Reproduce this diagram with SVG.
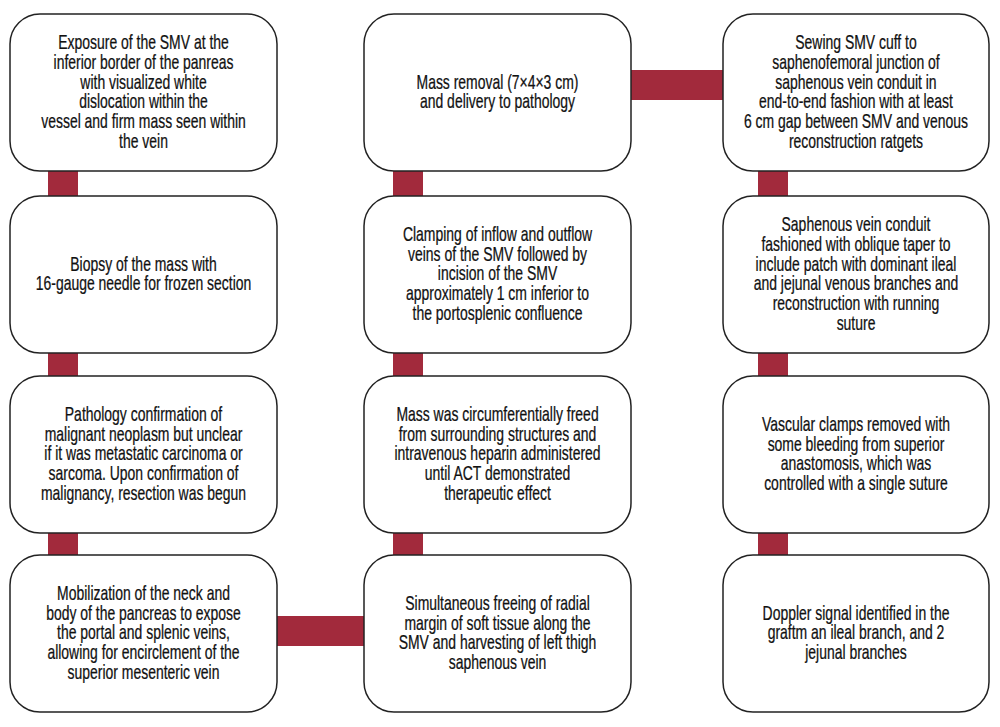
<svg xmlns="http://www.w3.org/2000/svg" width="1000" height="727" viewBox="0 0 1000 727">
<style>
.box{fill:#fff;stroke:#222;stroke-width:1.5}
.bar{fill:#a22a3c}
text{font-family:"Liberation Sans",Arial,sans-serif;font-size:19.5px;fill:#111;text-anchor:middle;stroke:#111;stroke-width:0.25}
</style>
<rect width="1000" height="727" fill="#fff"/>
<g id="connectors">
<rect class="bar" x="48" y="165" width="30" height="37"/>
<rect class="bar" x="48" y="347" width="30" height="35"/>
<rect class="bar" x="48" y="527" width="30" height="34"/>
<rect class="bar" x="270" y="616" width="100" height="30"/>
<rect class="bar" x="393" y="527" width="30" height="34"/>
<rect class="bar" x="393" y="347" width="30" height="35"/>
<rect class="bar" x="393" y="165" width="30" height="37"/>
<rect class="bar" x="625" y="70" width="104" height="30"/>
<rect class="bar" x="758" y="165" width="30" height="37"/>
<rect class="bar" x="758" y="347" width="30" height="35"/>
<rect class="bar" x="758" y="527" width="30" height="34"/>
</g>
<g id="n1">
<rect class="box" x="10" y="14" width="267" height="157" rx="30"/>
<g transform="matrix(0.716 0 0 1 143.5 0)">
<text x="0" y="49">Exposure of the SMV at the</text>
<text x="0" y="68.8">inferior border of the panreas</text>
<text x="0" y="88.6">with visualized white</text>
<text x="0" y="108.4">dislocation within the</text>
<text x="0" y="128.2">vessel and firm mass seen within</text>
<text x="0" y="148">the vein</text>
</g>
</g>
<g id="n2">
<rect class="box" x="10" y="196" width="267" height="157" rx="30"/>
<g transform="matrix(0.716 0 0 1 143.5 0)">
<text x="0" y="270.6">Biopsy of the mass with</text>
<text x="0" y="290.4">16-gauge needle for frozen section</text>
</g>
</g>
<g id="n3">
<rect class="box" x="10" y="376" width="267" height="157" rx="30"/>
<g transform="matrix(0.716 0 0 1 143.5 0)">
<text x="0" y="420.9">Pathology confirmation of</text>
<text x="0" y="440.7">malignant neoplasm but unclear</text>
<text x="0" y="460.5">if it was metastatic carcinoma or</text>
<text x="0" y="480.3">sarcoma. Upon confirmation of</text>
<text x="0" y="500.1">malignancy, resection was begun</text>
</g>
</g>
<g id="n4">
<rect class="box" x="10" y="555" width="267" height="157" rx="30"/>
<g transform="matrix(0.716 0 0 1 143.5 0)">
<text x="0" y="599.9">Mobilization of the neck and</text>
<text x="0" y="619.7">body of the pancreas to expose</text>
<text x="0" y="639.5">the portal and splenic veins,</text>
<text x="0" y="659.3">allowing for encirclement of the</text>
<text x="0" y="679.1">superior mesenteric vein</text>
</g>
</g>
<g id="n5">
<rect class="box" x="364" y="555" width="267" height="157" rx="30"/>
<g transform="matrix(0.716 0 0 1 497.5 0)">
<text x="0" y="609.8">Simultaneous freeing of radial</text>
<text x="0" y="629.6">margin of soft tissue along the</text>
<text x="0" y="649.4">SMV and harvesting of left thigh</text>
<text x="0" y="669.2">saphenous vein</text>
</g>
</g>
<g id="n6">
<rect class="box" x="364" y="376" width="267" height="157" rx="30"/>
<g transform="matrix(0.716 0 0 1 497.5 0)">
<text x="0" y="420.9">Mass was circumferentially freed</text>
<text x="0" y="440.7">from surrounding structures and</text>
<text x="0" y="460.5">intravenous heparin administered</text>
<text x="0" y="480.3">until ACT demonstrated</text>
<text x="0" y="500.1">therapeutic effect</text>
</g>
</g>
<g id="n7">
<rect class="box" x="364" y="196" width="267" height="157" rx="30"/>
<g transform="matrix(0.716 0 0 1 497.5 0)">
<text x="0" y="240.9">Clamping of inflow and outflow</text>
<text x="0" y="260.7">veins of the SMV followed by</text>
<text x="0" y="280.5">incision of the SMV</text>
<text x="0" y="300.3">approximately 1 cm inferior to</text>
<text x="0" y="320.1">the portosplenic confluence</text>
</g>
</g>
<g id="n8">
<rect class="box" x="364" y="14" width="267" height="157" rx="30"/>
<g transform="matrix(0.716 0 0 1 497.5 0)">
<text x="0" y="88.6">Mass removal (7×4×3 cm)</text>
<text x="0" y="108.4">and delivery to pathology</text>
</g>
</g>
<g id="n9">
<rect class="box" x="723" y="14" width="266" height="157" rx="30"/>
<g transform="matrix(0.716 0 0 1 856 0)">
<text x="0" y="49">Sewing SMV cuff to</text>
<text x="0" y="68.8">saphenofemoral junction of</text>
<text x="0" y="88.6">saphenous vein conduit in</text>
<text x="0" y="108.4">end-to-end fashion with at least</text>
<text x="0" y="128.2">6 cm gap between SMV and venous</text>
<text x="0" y="148">reconstruction ratgets</text>
</g>
</g>
<g id="n10">
<rect class="box" x="723" y="196" width="266" height="157" rx="30"/>
<g transform="matrix(0.716 0 0 1 856 0)">
<text x="0" y="231">Saphenous vein conduit</text>
<text x="0" y="250.8">fashioned with oblique taper to</text>
<text x="0" y="270.6">include patch with dominant ileal</text>
<text x="0" y="290.4">and jejunal venous branches and</text>
<text x="0" y="310.2">reconstruction with running</text>
<text x="0" y="330">suture</text>
</g>
</g>
<g id="n11">
<rect class="box" x="723" y="376" width="266" height="157" rx="30"/>
<g transform="matrix(0.716 0 0 1 856 0)">
<text x="0" y="430.8">Vascular clamps removed with</text>
<text x="0" y="450.6">some bleeding from superior</text>
<text x="0" y="470.4">anastomosis, which was</text>
<text x="0" y="490.2">controlled with a single suture</text>
</g>
</g>
<g id="n12">
<rect class="box" x="723" y="555" width="266" height="157" rx="30"/>
<g transform="matrix(0.716 0 0 1 856 0)">
<text x="0" y="619.7">Doppler signal identified in the</text>
<text x="0" y="639.5">graftm an ileal branch, and 2</text>
<text x="0" y="659.3">jejunal branches</text>
</g>
</g>
</svg>
